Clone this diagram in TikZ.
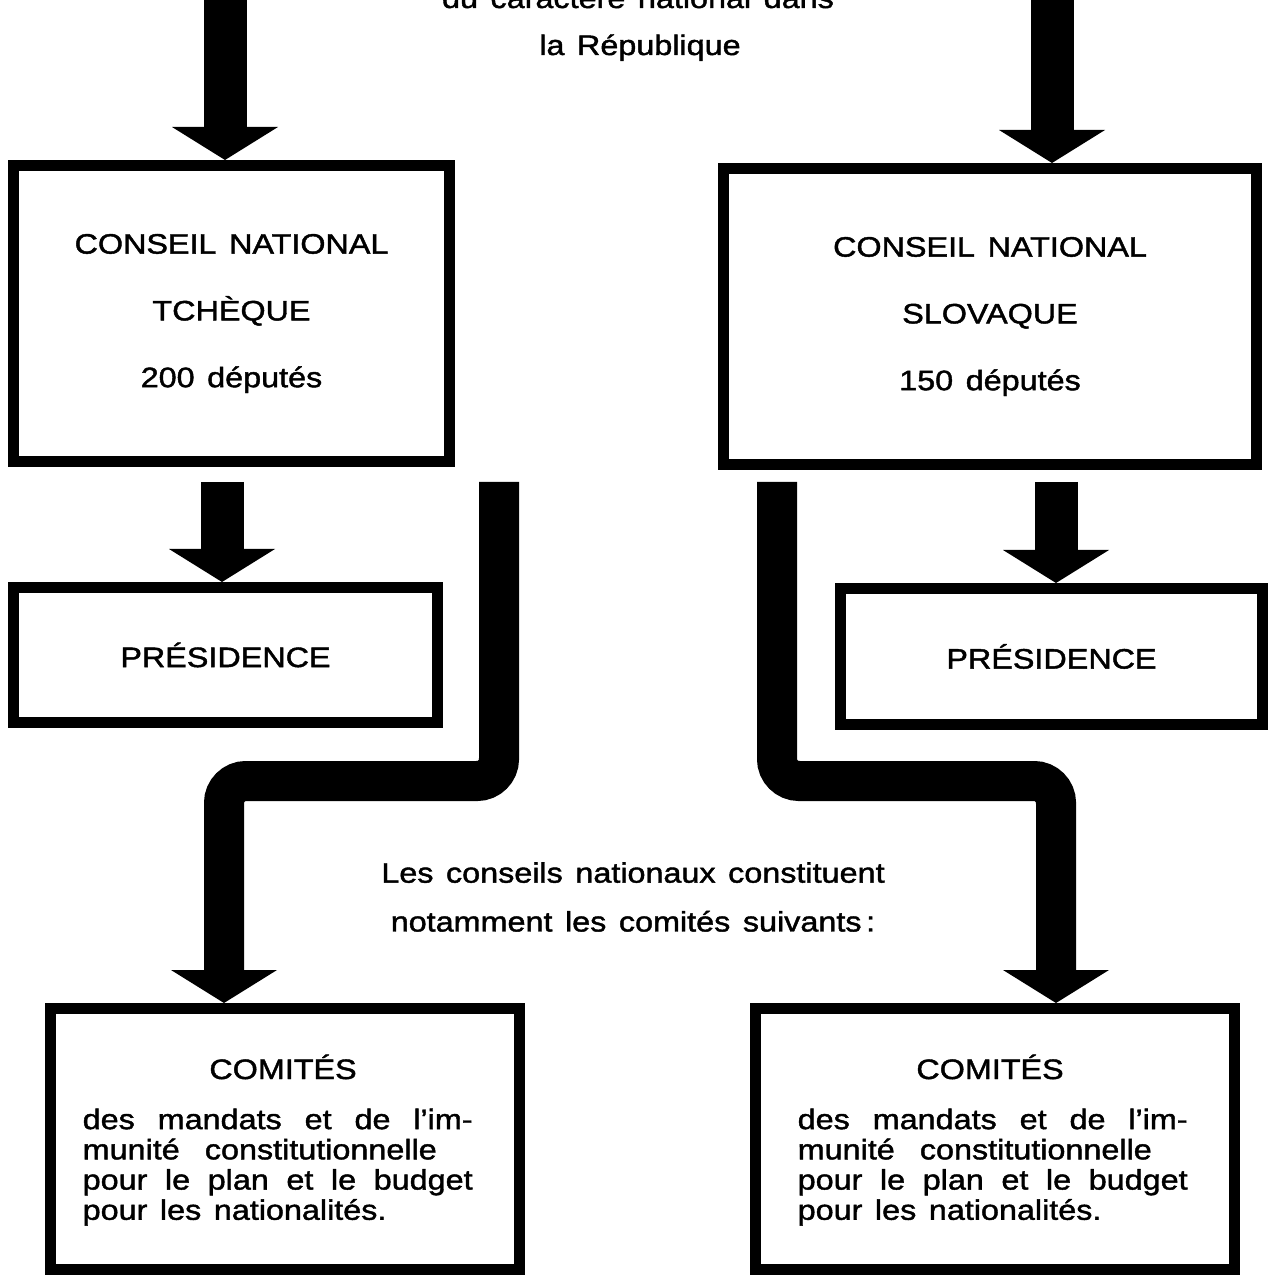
\documentclass[tikz,border=0pt]{standalone}
\usepackage{fontspec}
\setmainfont{Liberation Sans}[FakeStretch=1.15,WordSpace=1.4,FakeBold=1.5]
\usetikzlibrary{arrows.meta, positioning}

\newcommand\jline[2][3.9cm]{\makebox[#1][s]{#2}}

\tikzset{
  frame/.style={draw, line width=1.1mm, inner sep=0pt, align=center,
    font=\fontsize{8}{19}\selectfont},
  blockarrow/.style={line width=4.3mm,
    -{Triangle[width=10.6mm, length=3.3mm, line width=0pt]}},
  pipe/.style={blockarrow, line width=4mm, rounded corners=2.2mm},
  words/.style={inner sep=0pt, font=\fontsize{8}{8.6}\selectfont}
}

\begin{document}
\begin{tikzpicture}[x=0.1mm, y=-0.1mm]
\useasboundingbox (0,0) rectangle (1268,1276);

% titre (coupe en haut)
\node[words, anchor=base] (dutxt) at (638,8) {du caractère national dans};
\node[words, anchor=base] (rep) at (640,55) {la République};

% conseils nationaux
\node[frame, minimum width=4.36cm, minimum height=2.96cm] (cnt) at (231.5,313.5)
  {CONSEIL NATIONAL\\TCHÈQUE\\200 députés};
\node[frame, minimum width=5.33cm, minimum height=2.96cm] (cns) at (990,316.5)
  {CONSEIL NATIONAL\\SLOVAQUE\\150 députés};

% presidences
\node[frame, minimum width=4.24cm, minimum height=1.35cm] (presL) at (225.5,655) {PRÉSIDENCE};
\node[frame, minimum width=4.22cm, minimum height=1.36cm] (presR) at (1051.5,656.5) {PRÉSIDENCE};

% comites
\node[frame, minimum width=4.69cm, minimum height=2.61cm] (comL) at (285,1139) {};
\node[frame, minimum width=4.79cm, minimum height=2.61cm] (comR) at (995,1139) {};
\foreach \c/\hx/\bx in {comL/283/82, comR/990/797}{
  \node[words, anchor=base] (\c head) at (\hx,1079) {COMITÉS};
  \node[words, anchor=north west, align=left] (\c body) at (\bx,1108)
    {\jline{des mandats et de l'im-}\\
     munité\ \ constitutionnelle\\
     \jline{pour le plan et le budget}\\
     pour les nationalités.};
}

\node[words, align=center, font=\fontsize{8}{13.9}\selectfont] (mid) at (633,897)
  {Les conseils nationaux constituent\\notamment les comités suivants\,:};

% fleches
\coordinate (inL) at (225,-10);
\coordinate (inR) at (1052,-10);
\coordinate (outL) at (222,482);
\coordinate (outR) at (1056,482);
\draw[blockarrow] (inL) -- (inL |- cnt.north);
\draw[blockarrow] (inR) -- (inR |- cns.north);
\draw[blockarrow] (outL) -- (outL |- presL.north);
\draw[blockarrow] (outR) -- (outR |- presR.north);

\coordinate (pipeL) at (499,482);
\coordinate (bendL) at (224,781);
\coordinate (pipeR) at (777,482);
\coordinate (bendR) at (1056,781);
\draw[pipe] (pipeL) |- (bendL) -- (bendL |- comL.north);
\draw[pipe] (pipeR) |- (bendR) -- (bendR |- comR.north);

\end{tikzpicture}
\end{document}
